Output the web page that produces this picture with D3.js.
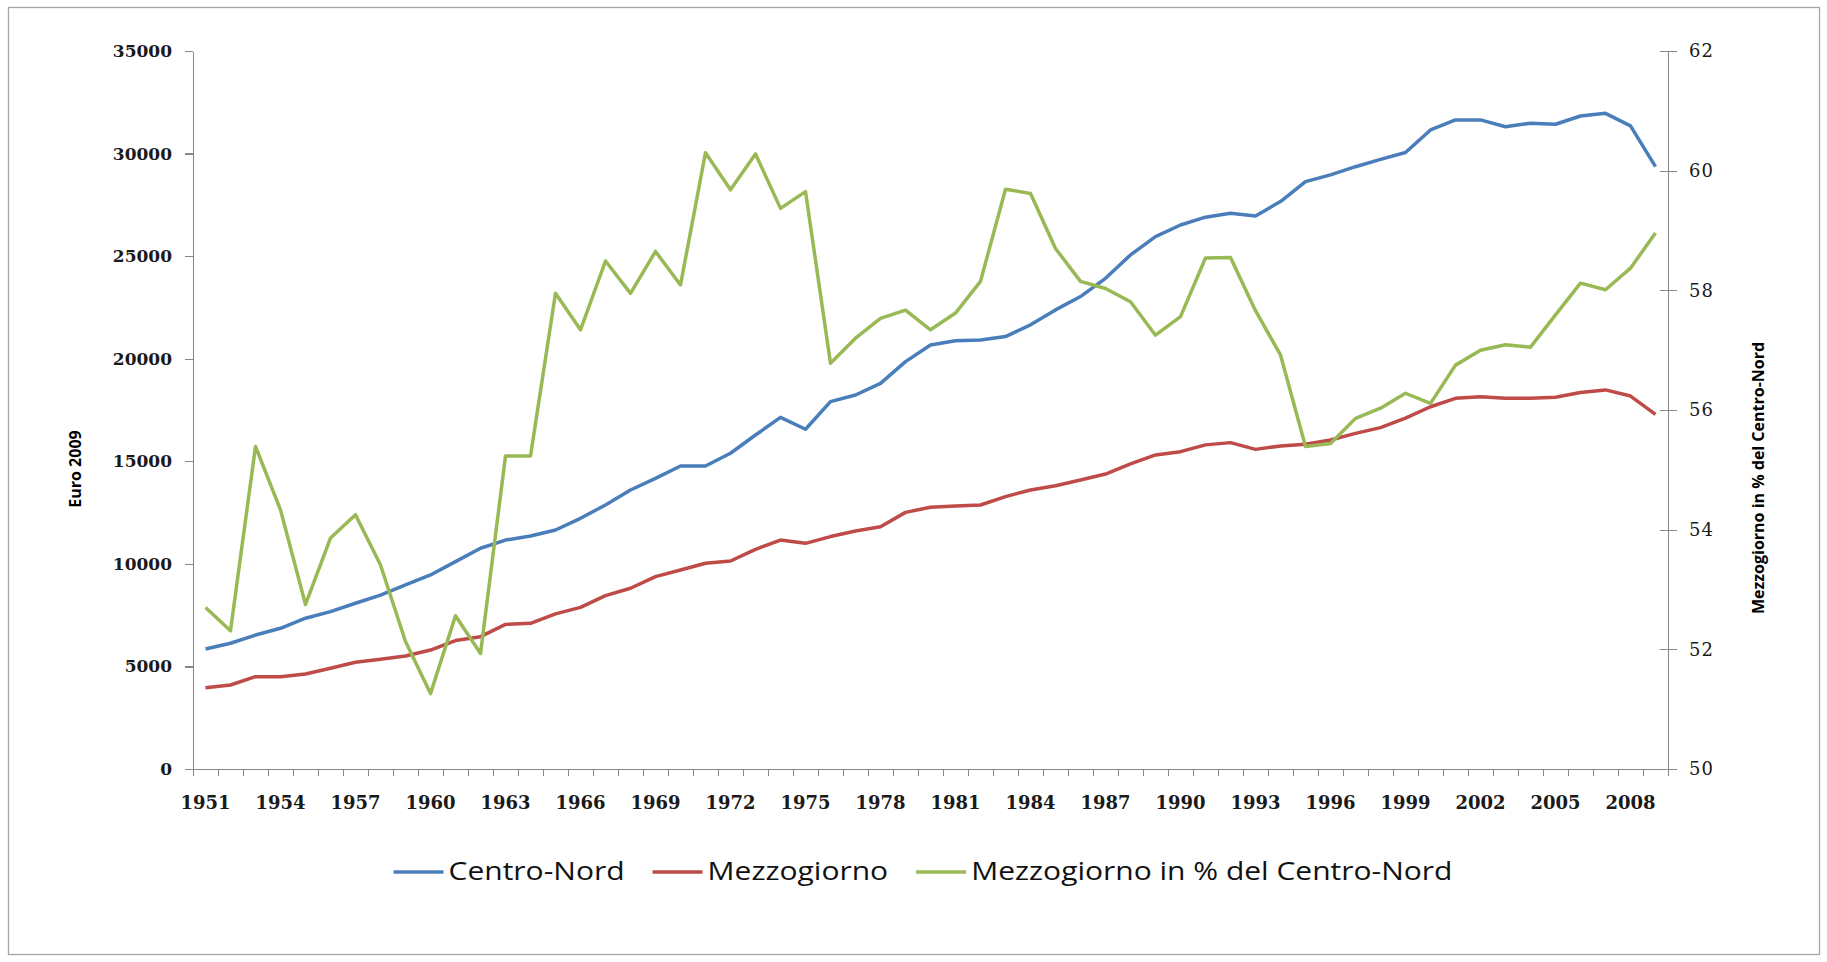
<!DOCTYPE html>
<html>
<head>
<meta charset="utf-8">
<script src="https://cdn.jsdelivr.net/npm/d3@7/dist/d3.min.js"></script>
<style>
body { margin: 0; background: #fff; }
svg { display: block; }
.axis path, .axis line { stroke: #868686; stroke-width: 1.3; shape-rendering: crispEdges; }
.axis text { fill: #1a1a1a; font-family: "DejaVu Serif", serif; }
.title { font-family: "Open Sans", sans-serif; font-weight: bold; font-size: 16px; fill: #000; }
.legend text { font-family: "Open Sans", sans-serif; font-size: 25px; fill: #111; }
</style>
</head>
<body>
<div id="container"></div>
<script>
var years = [1951, 1952, 1953, 1954, 1955, 1956, 1957, 1958, 1959, 1960,
    1961, 1962, 1963, 1964, 1965, 1966, 1967, 1968, 1969, 1970,
    1971, 1972, 1973, 1974, 1975, 1976, 1977, 1978, 1979, 1980,
    1981, 1982, 1983, 1984, 1985, 1986, 1987, 1988, 1989, 1990,
    1991, 1992, 1993, 1994, 1995, 1996, 1997, 1998, 1999, 2000,
    2001, 2002, 2003, 2004, 2005, 2006, 2007, 2008, 2009];

// Euro 2009 (left axis)
var centroNord = [5850, 6130, 6530, 6860, 7350, 7670, 8080, 8480, 8970, 9460,
    10110, 10760, 11160, 11360, 11650, 12220, 12870, 13600, 14170, 14770,
    14770, 15390, 16280, 17140, 16560, 17910, 18230, 18800, 19860, 20670,
    20880, 20910, 21080, 21650, 22380, 23030, 23920, 25060, 25950, 26520,
    26900, 27090, 26960, 27660, 28630, 28960, 29360, 29720, 30050, 31150,
    31640, 31640, 31310, 31480, 31430, 31830, 31960, 31350, 29360];

var mezzogiorno = [3965, 4095, 4500, 4500, 4630, 4910, 5200, 5350, 5510, 5800,
    6260, 6450, 7050, 7100, 7560, 7880, 8450, 8810, 9380, 9700,
    10030, 10140, 10710, 11160, 11000, 11330, 11600, 11810, 12510, 12760,
    12820, 12870, 13280, 13600, 13810, 14090, 14380, 14870, 15310, 15470,
    15800, 15910, 15580, 15750, 15830, 16040, 16360, 16640, 17100, 17660,
    18070, 18150, 18070, 18070, 18120, 18350, 18480, 18180, 17290];

// right axis
var mezzPct = [52.70, 52.31, 55.39, 54.33, 52.75, 53.86, 54.25, 53.41, 52.13, 51.26,
    52.56, 51.93, 55.23, 55.23, 57.95, 57.34, 58.49, 57.95, 58.65, 58.09,
    60.30, 59.68, 60.28, 59.37, 59.65, 56.78, 57.20, 57.53, 57.67, 57.34,
    57.62, 58.15, 59.69, 59.62, 58.70, 58.15, 58.03, 57.81, 57.25, 57.56,
    58.54, 58.55, 57.66, 56.92, 55.39, 55.44, 55.86, 56.03, 56.28, 56.11,
    56.75, 57.00, 57.09, 57.05, 57.59, 58.12, 58.01, 58.37, 58.96];

var euroTicks = [0, 5000, 10000, 15000, 20000, 25000, 30000, 35000];
var pctTicks = [50, 52, 54, 56, 58, 60, 62];
var yearLabels = [1951, 1954, 1957, 1960, 1963, 1966, 1969, 1972, 1975, 1978,
    1981, 1984, 1987, 1990, 1993, 1996, 1999, 2002, 2005, 2008];

var seriesNames = ["Centro-Nord", "Mezzogiorno", "Mezzogiorno in % del Centro-Nord"];
var seriesColors = ["#4a7ebb", "#be4b48", "#98b954"];

var width = 1827;
var height = 962;
var svg = d3.select("div#container").append("svg")
    .attr("width", width)
    .attr("height", height);

// outer frame
svg.append("rect")
    .attr("x", 8.5).attr("y", 7.5)
    .attr("width", 1811).attr("height", 947)
    .attr("fill", "#fff")
    .attr("stroke", "#a6a6a6")
    .attr("stroke-width", 1.3);

var plotLeft = 193, plotRight = 1668, plotTop = 51, plotBottom = 769;

var x = d3.scaleBand().domain(years).range([plotLeft, plotRight]);
var xEdge = d3.scaleLinear().domain([0, years.length]).range([plotLeft, plotRight]);
var yLeft = d3.scaleLinear().domain([0, 35000]).range([plotBottom, plotTop]);
var yRight = d3.scaleLinear().domain([50, 62]).range([plotBottom, plotTop]);

// x axis: tick marks on category boundaries, labels every 3 years
svg.append("g")
    .attr("class", "axis")
    .attr("transform", "translate(0," + plotBottom + ")")
    .call(d3.axisBottom(xEdge)
        .tickValues(d3.range(0, years.length + 1))
        .tickFormat("")
        .tickSize(7)
        .tickSizeOuter(0));

svg.append("g")
    .attr("class", "axis xlabels")
    .attr("transform", "translate(0," + plotBottom + ")")
    .call(d3.axisBottom(x)
        .tickValues(yearLabels)
        .tickSize(0)
        .tickPadding(27))
    .call(function(g) { g.select(".domain").remove(); })
    .selectAll("text")
    .style("font-size", "18px")
    .style("font-weight", "bold");

// left axis
svg.append("g")
    .attr("class", "axis")
    .attr("transform", "translate(" + plotLeft + ",0)")
    .call(d3.axisLeft(yLeft)
        .tickValues(euroTicks)
        .tickFormat(d3.format("d"))
        .tickSize(8)
        .tickSizeOuter(0)
        .tickPadding(13))
    .selectAll("text")
    .style("font-size", "17px")
    .style("font-weight", "bold");

// right axis, ticks cross the line
var rAxis = svg.append("g")
    .attr("class", "axis")
    .attr("transform", "translate(" + plotRight + ",0)")
    .call(d3.axisRight(yRight)
        .tickValues(pctTicks)
        .tickSize(9)
        .tickSizeOuter(0)
        .tickPadding(12));
rAxis.selectAll(".tick line").attr("x1", -8);
rAxis.selectAll("text")
    .style("font-size", "18px")
    .style("letter-spacing", "1px");

// axis titles
svg.append("text")
    .attr("class", "title")
    .attr("transform", "translate(81,469) rotate(-90)")
    .attr("text-anchor", "middle")
    .text("Euro 2009");

svg.append("text")
    .attr("class", "title")
    .attr("transform", "translate(1764,478) rotate(-90)")
    .attr("text-anchor", "middle")
    .text("Mezzogiorno in % del Centro-Nord");

// lines
var cx = function(d, i) { return x(years[i]) + x.bandwidth() / 2; };
var lineLeft = d3.line().x(cx).y(function(d) { return yLeft(d); });
var lineRight = d3.line().x(cx).y(function(d) { return yRight(d); });

var paths = [lineLeft(centroNord), lineLeft(mezzogiorno), lineRight(mezzPct)];
svg.selectAll("path.series")
    .data(paths)
    .enter()
    .append("path")
    .attr("class", "series")
    .attr("d", function(d) { return d; })
    .attr("fill", "none")
    .attr("stroke", function(d, i) { return seriesColors[i]; })
    .attr("stroke-width", 3.5)
    .attr("stroke-linejoin", "round");

// legend
var legend = svg.append("g").attr("class", "legend");
var stretch = 1.2;
var items = legend.selectAll("g")
    .data(seriesNames)
    .enter()
    .append("g");
items.append("line")
    .attr("x1", 0).attr("x2", 50)
    .attr("y1", 872).attr("y2", 872)
    .attr("stroke", function(d, i) { return seriesColors[i]; })
    .attr("stroke-width", 3.5);
items.append("text")
    .attr("transform", "translate(55,880) scale(" + stretch + ",1)")
    .text(function(d) { return d; });

var widths = [];
items.each(function() {
    widths.push(55 + d3.select(this).select("text").node().getComputedTextLength() * stretch);
});
var gap = 28;
var total = d3.sum(widths) + gap * (widths.length - 1);
var pos = 923 - total / 2;
items.attr("transform", function(d, i) {
    var p = pos;
    pos += widths[i] + gap;
    return "translate(" + p + ",0)";
});
</script>
</body>
</html>
